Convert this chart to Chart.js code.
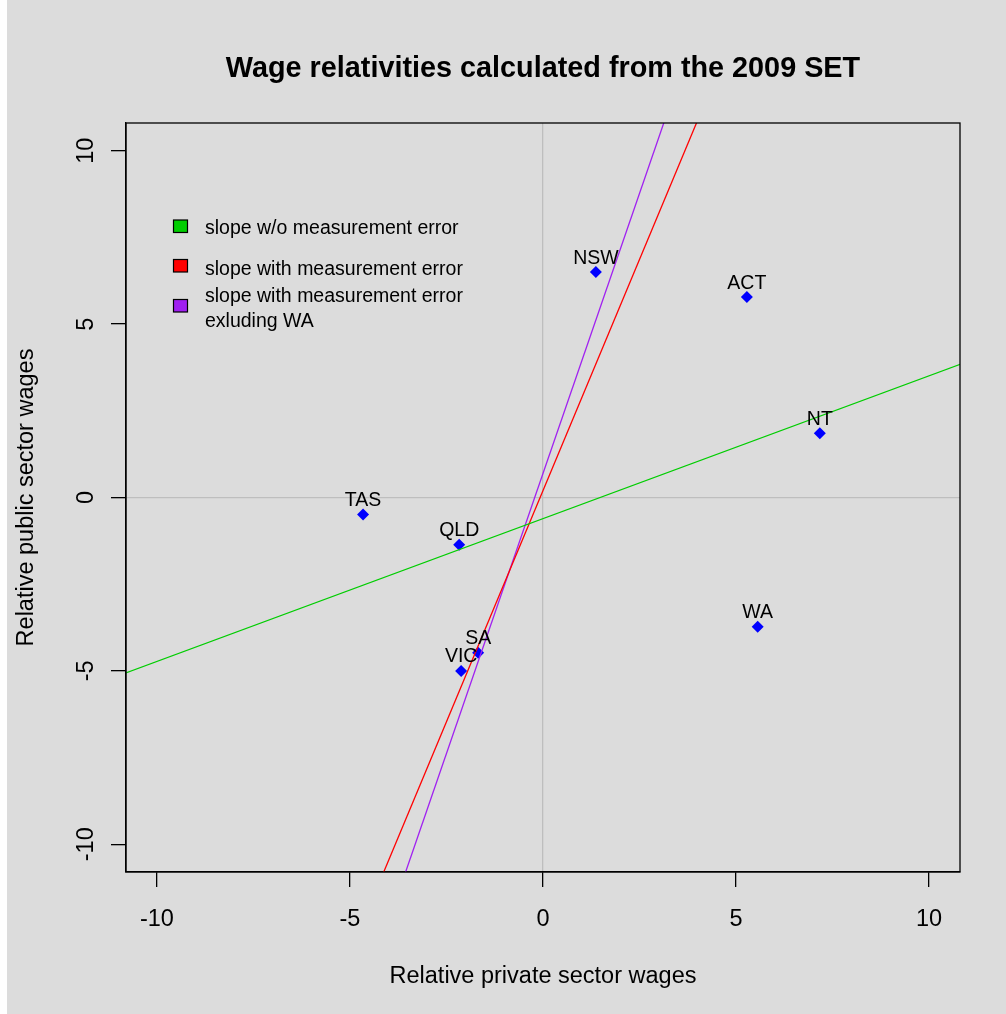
<!DOCTYPE html>
<html>
<head>
<meta charset="utf-8">
<script src="https://cdn.jsdelivr.net/npm/chart.js@4"></script>
<style>
  html, body { margin: 0; padding: 0; background: #ffffff; }
  #wrap { position: absolute; left: 7px; top: 0; width: 999px; height: 1014px; background: #dcdcdc; }
</style>
</head>
<body>
<div id="wrap"><canvas id="wageChart" width="999" height="1014"></canvas></div>
<script>
// Data
const states = ["NSW", "ACT", "NT", "TAS", "QLD", "SA", "VIC", "WA"];
const privateWages = [1.37, 5.28, 7.17, -4.66, -2.17, -1.68, -2.12, 5.56];
const publicWages = [6.5, 5.78, 1.85, -0.49, -1.36, -4.48, -5.0, -3.73];

// fitted lines, endpoints
const greenLineX = [-11, 11];
const greenLineY = [-5.14, 3.92];
const redLineX = [-4.2, 4.05];
const redLineY = [-11, 11];
const purpleLineX = [-3.62, 3.19];
const purpleLineY = [-11, 11];

const xTicks = [-10, -5, 0, 5, 10];
const yTicks = [-10, -5, 0, 5, 10];
const axisMin = -10.8;
const axisMax = 10.8;

const legendItems = [
  { color: "#00cd00", lines: ["slope w/o measurement error"] },
  { color: "#ff0000", lines: ["slope with measurement error"] },
  { color: "#a020f0", lines: ["slope with measurement error", "exluding WA"] },
];

const FONT = "'Liberation Sans', Arial, sans-serif";

function toPoints(xs, ys) {
  return xs.map((x, i) => ({ x: x, y: ys[i] }));
}

function lineDataset(label, xs, ys, color) {
  return {
    type: "line",
    label: label,
    data: toPoints(xs, ys),
    borderColor: color,
    borderWidth: 1.3,
    pointRadius: 0,
    fill: false,
    tension: 0,
  };
}

// Extra drawing: box, title, axis titles, legend, point labels
const decorPlugin = {
  id: "decor",
  afterDraw(chart) {
    const ctx = chart.ctx;
    const area = chart.chartArea;
    ctx.save();

    // plot box
    ctx.strokeStyle = "#000";
    ctx.lineWidth = 1.3;
    ctx.strokeRect(area.left, area.top, area.right - area.left, area.bottom - area.top);

    ctx.fillStyle = "#000";
    // title
    ctx.font = "bold 28.8px " + FONT;
    ctx.textAlign = "center";
    ctx.textBaseline = "alphabetic";
    ctx.fillText("Wage relativities calculated from the 2009 SET", (area.left + area.right) / 2, 77);

    // axis titles
    ctx.font = "23.5px " + FONT;
    ctx.fillText("Relative private sector wages", (area.left + area.right) / 2, 983);
    ctx.save();
    ctx.translate(26, (area.top + area.bottom) / 2);
    ctx.rotate(-Math.PI / 2);
    ctx.fillText("Relative public sector wages", 0, 0);
    ctx.restore();

    // legend
    ctx.font = "19.5px " + FONT;
    ctx.textAlign = "left";
    const boxX = 166.5;
    const boxTops = [220, 259.5, 299.5];
    const textRows = [[234], [275], [302, 326.5]];
    legendItems.forEach((item, i) => {
      ctx.fillStyle = item.color;
      ctx.fillRect(boxX, boxTops[i], 14, 12.5);
      ctx.strokeStyle = "#000";
      ctx.lineWidth = 1.2;
      ctx.strokeRect(boxX, boxTops[i], 14, 12.5);
      ctx.fillStyle = "#000";
      item.lines.forEach((line, j) => {
        ctx.fillText(line, 198, textRows[i][j]);
      });
    });

    // state labels
    const meta = chart.getDatasetMeta(3);
    ctx.textAlign = "center";
    ctx.font = "19.5px " + FONT;
    ctx.fillStyle = "#000";
    meta.data.forEach((pt, i) => {
      ctx.fillText(states[i], pt.x, pt.y - 8.5);
    });

    ctx.restore();
  },
};

function zeroGrid(c) {
  return c.tick && c.tick.value === 0 ? "#bebebe" : "rgba(0,0,0,0)";
}

const ctx = document.getElementById("wageChart").getContext("2d");
const chart = new Chart(ctx, {
  type: "scatter",
  data: {
    datasets: [
      lineDataset("slope w/o measurement error", greenLineX, greenLineY, "#00cd00"),
      lineDataset("slope with measurement error", redLineX, redLineY, "#ff0000"),
      lineDataset("slope with measurement error exluding WA", purpleLineX, purpleLineY, "#a020f0"),
      {
        label: "States",
        data: toPoints(privateWages, publicWages),
        pointStyle: "rectRot",
        pointRadius: 6,
        backgroundColor: "#0000ff",
        borderColor: "#0000ff",
        borderWidth: 0,
      },
    ],
  },
  options: {
    responsive: false,
    animation: false,
    layout: { padding: { top: 123, right: 46, left: 0, bottom: 0 } },
    plugins: { legend: { display: false }, tooltip: { enabled: false } },
    scales: {
      x: {
        type: "linear",
        min: axisMin,
        max: axisMax,
        afterBuildTicks: (scale) => { scale.ticks = xTicks.map((v) => ({ value: v })); },
        afterFit: (scale) => { scale.height = 142; },
        grid: { color: zeroGrid, lineWidth: 1.3, tickLength: 15, tickColor: "#000", tickWidth: 1.3 },
        border: { display: true, color: "#000", width: 1.3 },
        ticks: { color: "#000", font: { family: FONT, size: 23.5 }, padding: 18, autoSkip: false, maxRotation: 0 },
      },
      y: {
        type: "linear",
        min: axisMin,
        max: axisMax,
        afterBuildTicks: (scale) => { scale.ticks = yTicks.map((v) => ({ value: v })); },
        afterFit: (scale) => { scale.width = 119; },
        grid: { color: zeroGrid, lineWidth: 1.3, tickLength: 15, tickColor: "#000", tickWidth: 1.3 },
        border: { display: true, color: "#000", width: 1.3 },
        ticks: {
          color: "#000",
          font: { family: FONT, size: 23.5 },
          padding: 8,
          autoSkip: false,
          minRotation: 90,
          maxRotation: 90,
          crossAlign: "center",
        },
      },
    },
  },
  plugins: [decorPlugin],
});
</script>
</body>
</html>
